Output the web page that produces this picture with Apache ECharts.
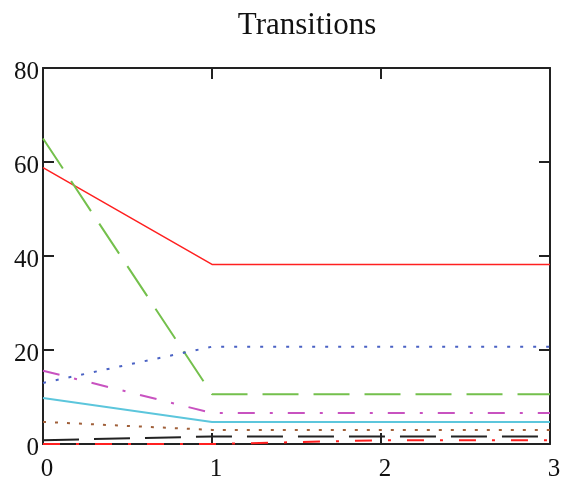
<!DOCTYPE html>
<html>
<head>
<meta charset="utf-8">
<script src="https://cdn.jsdelivr.net/npm/echarts@6/dist/echarts.min.js"></script>
<style>
html,body{margin:0;padding:0;background:#fff;}
#chart{width:569px;height:478px;}
</style>
</head>
<body>
<div id="chart"></div>
<script>
const xValues = [0, 1, 2, 3];
const redSolid = [58.8, 38.2, 38.2, 38.2];
const greenDash = [65.0, 10.6, 10.6, 10.6];
const blueDot = [13.0, 20.7, 20.7, 20.7];
const magentaDashDot = [15.6, 6.6, 6.6, 6.6];
const cyanSolid = [9.8, 4.7, 4.7, 4.7];
const brownDot = [4.7, 3.0, 3.0, 3.0];
const blackDash = [0.8, 1.6, 1.6, 1.6];
const redDashDot = [0.0, 0.0, 0.8, 0.8];
const yTicks = [0, 20, 40, 60, 80];
const xTicks = [0, 1, 2, 3];

function pts(arr){ return xValues.map((x,i)=>[x, arr[i]]); }
function mk(name, arr, color, type, width){
  return {name, type:'line', data:pts(arr), symbol:'none', silent:true,
    lineStyle:{color, type, width: width||1.5}, z: 3};
}
const fontFamily = '"Liberation Serif","Times New Roman",serif';
const chart = echarts.init(document.getElementById('chart'), null, {renderer:'canvas'});
const axisBase = {
  axisLine:{show:true, onZero:false, lineStyle:{color:'#222', width:2}},
  axisTick:{show:true, inside:true, length:11, lineStyle:{color:'#222', width:2}},
  splitLine:{show:false}
};
chart.setOption({
  animation:false,
  backgroundColor:'#fff',
  title:{text:'Transitions', left:302, top:5, textAlign:'center',
    textStyle:{fontFamily, fontSize:31, fontWeight:'normal', color:'#111'}},
  grid:{left:43, right:19, top:68, bottom:34, containLabel:false, outerBoundsMode:'none'},
  xAxis:[
    Object.assign({type:'value', position:'bottom', min:xTicks[0], max:xTicks[xTicks.length-1], interval:1,
      axisLabel:{show:true, margin:13, formatter:'{a|{value}}',
        rich:{a:{fontFamily, fontSize:25, color:'#111', padding:[0,0,0,8]}}}}, axisBase),
    Object.assign({type:'value', position:'top', min:xTicks[0], max:xTicks[xTicks.length-1], interval:1,
      axisLabel:{show:false}}, axisBase)
  ],
  yAxis:[
    Object.assign({type:'value', position:'left', min:yTicks[0], max:yTicks[yTicks.length-1], interval:20,
      axisLabel:{show:true, margin:4, formatter:'{a|{value}}',
        rich:{a:{fontFamily, fontSize:25, color:'#111', padding:[8,0,0,0]}}}}, axisBase),
    Object.assign({type:'value', position:'right', min:yTicks[0], max:yTicks[yTicks.length-1], interval:20,
      axisLabel:{show:false}}, axisBase)
  ],
  series:[
    mk('red', redSolid, '#ff2020', 'solid', 1.5),
    mk('green', greenDash, '#74c04c', [36,15], 2),
    mk('blue', blueDot, '#4a62c4', [3,10], 2),
    mk('magenta', magentaDashDot, '#c852c0', [17,15,3,15], 2),
    mk('cyan', cyanSolid, '#5cc6dc', 'solid', 2),
    mk('brown', brownDot, '#a0603a', [3,9], 2),
    mk('black', blackDash, '#222222', [36,15], 2),
    mk('reddash', redDashDot, '#ff2020', [17,16,3,16], 2)
  ]
});
</script>
</body>
</html>
